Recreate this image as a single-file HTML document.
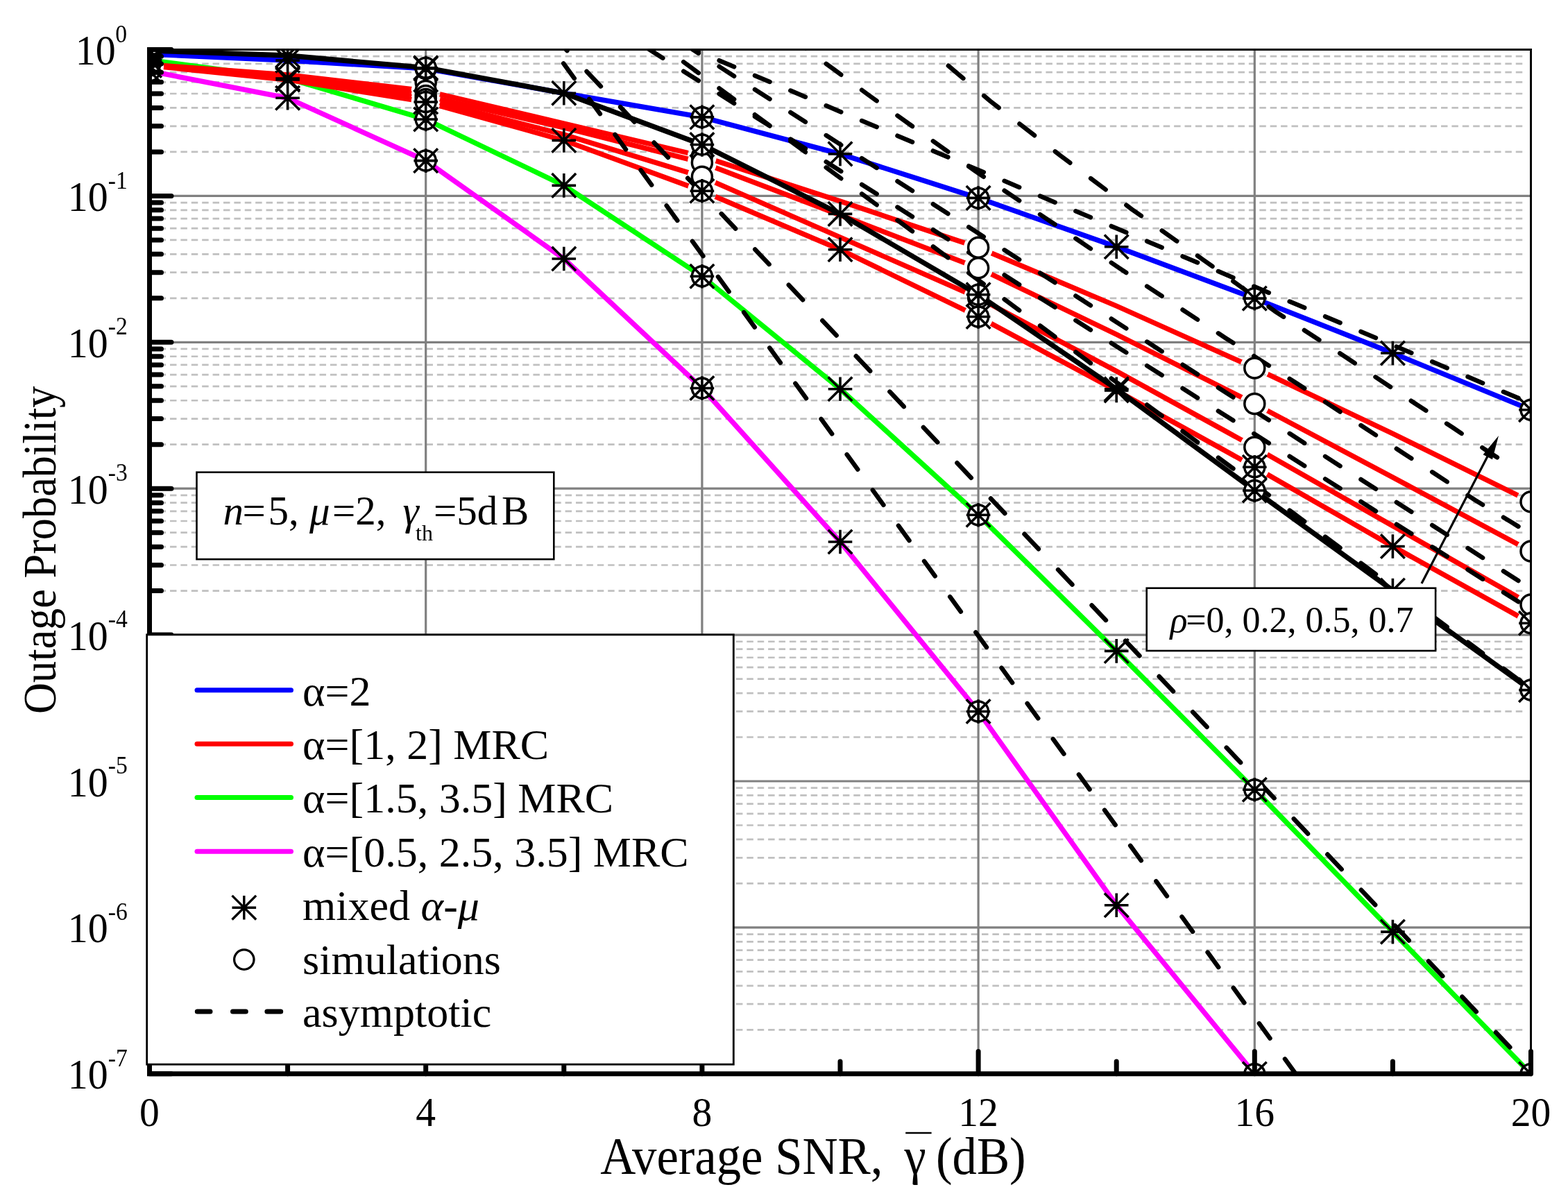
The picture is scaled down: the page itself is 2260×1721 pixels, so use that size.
<!DOCTYPE html><html><head><meta charset="utf-8"><title>Outage Probability</title><style>html,body{margin:0;padding:0;background:#fff;}svg{display:block;}text{font-family:"Liberation Serif","Times New Roman",serif;fill:#000;}</style></head><body>
<svg xmlns="http://www.w3.org/2000/svg" width="2260" height="1721" viewBox="0 0 2260 1721">
<rect width="2260" height="1721" fill="#fff"/>
<defs><clipPath id="pc"><rect x="215.5" y="71.5" width="1991.0" height="1476.3"/></clipPath></defs>
<path d="M214.2 218.91H2197 M214.2 181.78H2197 M214.2 155.43H2197 M214.2 134.99H2197 M214.2 118.29H2197 M214.2 104.17H2197 M214.2 91.94H2197 M214.2 81.15H2197 M214.2 429.81H2197 M214.2 392.68H2197 M214.2 366.33H2197 M214.2 345.89H2197 M214.2 329.19H2197 M214.2 315.07H2197 M214.2 302.84H2197 M214.2 292.05H2197 M214.2 640.71H2197 M214.2 603.58H2197 M214.2 577.23H2197 M214.2 556.79H2197 M214.2 540.09H2197 M214.2 525.97H2197 M214.2 513.74H2197 M214.2 502.95H2197 M214.2 851.61H2197 M214.2 814.48H2197 M214.2 788.13H2197 M214.2 767.69H2197 M214.2 750.99H2197 M214.2 736.87H2197 M214.2 724.64H2197 M214.2 713.85H2197 M214.2 1062.51H2197 M214.2 1025.38H2197 M214.2 999.03H2197 M214.2 978.59H2197 M214.2 961.89H2197 M214.2 947.77H2197 M214.2 935.54H2197 M214.2 924.75H2197 M214.2 1273.41H2197 M214.2 1236.28H2197 M214.2 1209.93H2197 M214.2 1189.49H2197 M214.2 1172.79H2197 M214.2 1158.67H2197 M214.2 1146.44H2197 M214.2 1135.65H2197 M214.2 1484.31H2197 M214.2 1447.18H2197 M214.2 1420.83H2197 M214.2 1400.39H2197 M214.2 1383.69H2197 M214.2 1369.57H2197 M214.2 1357.34H2197 M214.2 1346.55H2197" stroke="#c0c0c0" stroke-width="2.7" stroke-dasharray="9.5 5.895" fill="none"/>
<path d="M215.5 282.4H2206.5 M215.5 493.3H2206.5 M215.5 704.2H2206.5 M215.5 915.1H2206.5 M215.5 1126H2206.5 M215.5 1336.9H2206.5 M613.7 71.5V1547.8 M1011.9 71.5V1547.8 M1410.1 71.5V1547.8 M1808.3 71.5V1547.8" stroke="#808080" stroke-width="3.2" fill="none"/>
<g clip-path="url(#pc)">
<polyline points="215.5,86.5 414.6,113 613.7,172 812.8,267.4 1011.9,398.3 1211,560.7 1410.1,742.3 1609.2,938.4 1808.3,1138.2 2007.4,1343.1 2206.5,1548" stroke="#00ff00" stroke-width="7.3" fill="none" stroke-linejoin="round"/>
<polyline points="215.5,102.4 414.6,141.3 613.7,231.6 812.8,373 1011.9,559.5 1211,781 1410.1,1025.5 1609.2,1304.7 1808.3,1548 2007.4,1800 2206.5,2050" stroke="#ff00ff" stroke-width="7.3" fill="none" stroke-linejoin="round"/>
<mask id="mR1" maskUnits="userSpaceOnUse" x="0" y="0" width="2260" height="1721"><rect width="2260" height="1721" fill="#fff"/><g fill="#000"><circle cx="215.5" cy="93" r="21"/><circle cx="613.7" cy="131" r="21"/><circle cx="1011.9" cy="225.3" r="21"/><circle cx="1410.1" cy="356.8" r="21"/><circle cx="1808.3" cy="530.4" r="21"/><circle cx="2206.5" cy="723.2" r="21"/></g></mask>
<polyline points="215.5,93 414.6,108 613.7,131 812.8,178 1011.9,225.3 1211,290 1410.1,356.8 1609.2,441 1808.3,530.4 2007.4,625 2206.5,723.2" stroke="#ff0000" stroke-width="7.3" fill="none" stroke-linejoin="round" mask="url(#mR1)"/>
<mask id="mR2" maskUnits="userSpaceOnUse" x="0" y="0" width="2260" height="1721"><rect width="2260" height="1721" fill="#fff"/><g fill="#000"><circle cx="215.5" cy="93.5" r="21"/><circle cx="613.7" cy="138" r="21"/><circle cx="1011.9" cy="234.4" r="21"/><circle cx="1410.1" cy="386.3" r="21"/><circle cx="1808.3" cy="582.1" r="21"/><circle cx="2206.5" cy="794.6" r="21"/></g></mask>
<polyline points="215.5,93.5 414.6,110 613.7,138 812.8,184 1011.9,234.4 1211,310 1410.1,386.3 1609.2,482 1808.3,582.1 2007.4,688 2206.5,794.6" stroke="#ff0000" stroke-width="7.3" fill="none" stroke-linejoin="round" mask="url(#mR2)"/>
<mask id="mR3" maskUnits="userSpaceOnUse" x="0" y="0" width="2260" height="1721"><rect width="2260" height="1721" fill="#fff"/><g fill="#000"><circle cx="215.5" cy="94" r="21"/><circle cx="613.7" cy="143" r="21"/><circle cx="1011.9" cy="254.8" r="21"/><circle cx="1410.1" cy="429.3" r="21"/><circle cx="1808.3" cy="644.6" r="21"/><circle cx="2206.5" cy="871.4" r="21"/></g></mask>
<polyline points="215.5,94 414.6,112.5 613.7,143 812.8,194 1011.9,254.8 1211,342 1410.1,429.3 1609.2,535 1808.3,644.6 2007.4,758 2206.5,871.4" stroke="#ff0000" stroke-width="7.3" fill="none" stroke-linejoin="round" mask="url(#mR3)"/>
<mask id="mR4" maskUnits="userSpaceOnUse" x="0" y="0" width="2260" height="1721"><rect width="2260" height="1721" fill="#fff"/><g fill="#000"><circle cx="215.5" cy="94.5" r="21"/><circle cx="613.7" cy="147" r="21"/><circle cx="1011.9" cy="275.2" r="21"/><circle cx="1410.1" cy="456.5" r="21"/><circle cx="1808.3" cy="673.2" r="21"/><circle cx="2206.5" cy="898.2" r="21"/></g></mask>
<polyline points="215.5,94.5 414.6,115 613.7,147 812.8,202.4 1011.9,275.2 1211,359.8 1410.1,456.5 1609.2,563 1808.3,673.2 2007.4,787.5 2206.5,898.2" stroke="#ff0000" stroke-width="7.3" fill="none" stroke-linejoin="round" mask="url(#mR4)"/>
<polyline points="215.5,78 414.6,87.1 613.7,98.9 812.8,134.3 1011.9,168.9 1211,221.9 1410.1,285.4 1609.2,355.7 1808.3,430.1 2007.4,509 2206.5,590.7" stroke="#0000ff" stroke-width="7.3" fill="none" stroke-linejoin="round"/>
<polyline points="215.5,73 414.6,80 613.7,97.7 812.8,134.3 1011.9,208.5 1211,308.4 1410.1,424.8 1609.2,560.7 1808.3,707 2007.4,851 2206.5,994.6" stroke="#000000" stroke-width="7.3" fill="none" stroke-linejoin="round"/>
<path d="M950 50.61L955.34 52.86M985.22 65.49L1006.72 74.57M1036.6 87.19L1058.1 96.28M1087.98 108.9L1109.48 117.99M1139.36 130.61L1160.86 139.69M1190.74 152.32L1212.24 161.4M1242.12 174.03L1263.62 183.11M1293.5 195.73L1315 204.82M1344.88 217.44L1366.38 226.53M1396.26 239.15L1417.76 248.23M1447.64 260.86L1469.14 269.94M1499.02 282.57L1520.52 291.65M1550.4 304.28L1571.9 313.36M1601.78 325.98L1623.28 335.07M1653.16 347.69L1674.66 356.78M1704.54 369.4L1726.04 378.48M1755.92 391.11L1777.42 400.19M1807.3 412.82L1828.8 421.9M1858.68 434.52L1880.18 443.61M1910.06 456.23L1931.56 465.32M1961.44 477.94L1982.94 487.02M2012.82 499.65L2034.32 508.73M2064.2 521.36L2085.7 530.44M2115.58 543.06L2137.08 552.15M2166.96 564.77L2188.46 573.86M900 26.18L903.96 29.11M933.84 51.22L955.34 67.13M985.22 89.24L1006.72 105.15M1036.6 127.27L1058.1 143.18M1087.98 165.29L1109.48 181.2M1139.36 203.31L1160.86 219.22M1190.74 241.33L1212.24 257.24M1242.12 279.35L1263.62 295.26M1293.5 317.37L1315 333.28M1344.88 355.39L1366.38 371.3M1396.26 393.41L1417.76 409.32M1447.64 431.44L1469.14 447.35M1499.02 469.46L1520.52 485.37M1550.4 507.48L1571.9 523.39M1601.78 545.5L1623.28 561.41M1653.16 583.52L1674.66 599.43M1704.54 621.54L1726.04 637.45M1755.92 659.56L1777.42 675.47M1807.3 697.58L1828.8 713.49M1858.68 735.61L1880.18 751.52M1910.06 773.63L1931.56 789.54M1961.44 811.65L1982.94 827.56M2012.82 849.67L2034.32 865.58M2064.2 887.69L2085.7 903.6M2115.58 925.71L2137.08 941.62M2166.96 963.73L2188.46 979.64M900 8L903.96 10.55M933.84 29.77L955.34 43.6M985.22 62.83L1006.72 76.66M1036.6 95.89L1058.1 109.72M1087.98 128.94L1109.48 142.78M1139.36 162L1160.86 175.84M1190.74 195.06L1212.24 208.89M1242.12 228.12L1263.62 241.95M1293.5 261.18L1315 275.01M1344.88 294.23L1366.38 308.07M1396.26 327.29L1417.76 341.13M1447.64 360.35L1469.14 374.18M1499.02 393.41L1520.52 407.24M1550.4 426.47L1571.9 440.3M1601.78 459.52L1623.28 473.36M1653.16 492.58L1674.66 506.41M1704.54 525.64L1726.04 539.47M1755.92 558.7L1777.42 572.53M1807.3 591.76L1828.8 605.59M1858.68 624.81L1880.18 638.65M1910.06 657.87L1931.56 671.7M1961.44 690.93L1982.94 704.76M2012.82 723.99L2034.32 737.82M2064.2 757.04L2085.7 770.88M2115.58 790.1L2137.08 803.94M2166.96 823.16L2188.46 836.99M850 16.71L852.58 18.35M882.46 37.34L903.96 51M933.84 69.99L955.34 83.65M985.22 102.64L1006.72 116.3M1036.6 135.29L1058.1 148.96M1087.98 167.94L1109.48 181.61M1139.36 200.6L1160.86 214.26M1190.74 233.25L1212.24 246.91M1242.12 265.9L1263.62 279.56M1293.5 298.55L1315 312.22M1344.88 331.2L1366.38 344.87M1396.26 363.86L1417.76 377.52M1447.64 396.51L1469.14 410.17M1499.02 429.16L1520.52 442.82M1550.4 461.81L1571.9 475.48M1601.78 494.46L1623.28 508.13M1653.16 527.12L1674.66 540.78M1704.54 559.77L1726.04 573.43M1755.92 592.42L1777.42 606.08M1807.3 625.07L1828.8 638.74M1858.68 657.72L1880.18 671.39M1910.06 690.38L1931.56 704.04M1961.44 723.03L1982.94 736.69M2012.82 755.68L2034.32 769.34M2064.2 788.33L2085.7 801.99M2115.58 820.98L2137.08 834.65M2166.96 853.64L2188.46 867.3M1150 61.7L1160.86 69.73M1190.74 91.82L1201.4 99.7L1212.24 107.7M1242.12 129.76L1252.6 137.5L1263.62 145.36M1293.5 166.67L1315 182M1344.88 203.31L1366.38 218.64M1396.26 239.95L1406 246.9L1417.76 254.76M1447.64 274.74L1469.14 289.11M1499.02 309.09L1511 317.1L1520.52 323.55M1550.4 343.81L1571.9 358.38M1601.78 378.63L1612.5 385.9L1623.28 393M1653.16 412.66L1674.66 426.81M1704.54 446.48L1726.04 460.63M1755.92 480.3L1766.4 487.2L1777.42 494.21M1807.3 513.21L1828.8 526.89M1858.68 545.89L1868.6 552.2L1880.18 559.79M1910.06 579.37L1931.56 593.47M1961.44 613.05L1982.94 627.14M2012.82 646.72L2022.7 653.2L2034.32 660.79M2064.2 680.32L2085.7 694.37M2115.58 713.89L2126 720.7L2137.08 727.46M2166.96 745.68L2177 751.8L2188.46 758.87M1330 63.8L1337.1 69.77M1366.9 94.81L1374.5 101.2L1388.4 112.93M1418.2 138.07L1427 145.5L1439.7 155.36M1469.5 178.5L1491 195.19M1520.8 218.33L1529 224.7L1542.3 234.69M1572.1 257.09L1593.6 273.24M1623.4 295.64L1631.6 301.8L1644.9 311.22M1674.7 332.32L1696.2 347.54M1726 368.64L1734.7 374.8L1747.5 383.98M1777.3 405.37L1798.8 420.79M1828.6 442.17L1837 448.2L1850.1 456.7M1879.9 476.02L1901.4 489.97M1931.2 509.29L1940 515L1952.7 523.49M1982.5 543.4L2004 557.77M2033.8 577.69L2042.5 583.5L2055.3 591.64M2085.1 610.6L2093.9 616.2L2106.6 624.85M2136.4 645.14L2145 651L2157.9 659.35M797.04 51.6L817.38 73.1M845.58 102.9L865.92 124.4M894.11 154.2L914.45 175.7M942.64 205.5L962.98 227M991.18 256.8L1011.52 278.3M1039.71 308.1L1060.05 329.6M1088.24 359.4L1108.59 380.9M1136.78 410.7L1157.12 432.2M1185.31 462L1205.65 483.5M1233.85 513.3L1254.19 534.8M1282.38 564.6L1302.72 586.1M1330.91 615.9L1351.25 637.4M1379.45 667.2L1399.79 688.7M1427.98 718.5L1448.32 740M1476.51 769.8L1496.85 791.3M1525.05 821.1L1545.39 842.6M1573.58 872.4L1593.92 893.9M1622.11 923.7L1642.45 945.2M1670.65 975L1690.99 996.5M1719.18 1026.3L1739.52 1047.8M1767.72 1077.6L1788.06 1099.1M1816.25 1128.9L1836.59 1150.4M1864.78 1180.2L1885.12 1201.7M1913.32 1231.5L1933.66 1253M1961.85 1282.8L1982.19 1304.3M2010.38 1334.1L2030.72 1355.6M2058.92 1385.4L2079.26 1406.9M2107.45 1436.7L2127.79 1458.2M2155.98 1488L2176.32 1509.5M2204.52 1539.3L2216.5 1551.97M780 47L790.62 61.65M812.17 91.4L827.75 112.9M849.31 142.65L864.89 164.15M886.45 193.9L902.03 215.4M923.59 245.15L939.17 266.65M960.72 296.4L976.3 317.9M997.86 347.65L1013.44 369.15M1035 398.9L1050.58 420.4M1072.14 450.15L1087.72 471.65M1109.28 501.4L1124.86 522.9M1146.41 552.65L1161.99 574.15M1183.55 603.9L1199.13 625.4M1220.69 655.15L1236.27 676.65M1257.83 706.4L1273.41 727.9M1294.96 757.65L1310.54 779.15M1332.1 808.9L1347.68 830.4M1369.24 860.15L1384.82 881.65M1406.38 911.4L1421.96 932.9M1443.51 962.65L1459.09 984.15M1480.65 1013.9L1496.23 1035.4M1517.79 1065.15L1533.37 1086.65M1554.93 1116.4L1570.51 1137.9M1592.07 1167.65L1607.64 1189.15M1629.2 1218.9L1644.78 1240.4M1666.34 1270.15L1681.92 1291.65M1703.48 1321.4L1719.06 1342.9M1740.62 1372.65L1756.2 1394.15M1777.75 1423.9L1793.33 1445.4M1814.89 1475.15L1830.47 1496.65M1852.03 1526.4L1867.61 1547.9M1889.17 1577.65L1900 1592.6" stroke="#000" stroke-width="6.5" fill="none" stroke-linecap="round" stroke-linejoin="round"/>
<g fill="#fff" stroke="#000" stroke-width="3.5"><circle cx="613.7" cy="119" r="14.5"/><circle cx="215.5" cy="86.5" r="14.5"/><circle cx="613.7" cy="172" r="14.5"/><circle cx="1011.9" cy="398.3" r="14.5"/><circle cx="1410.1" cy="742.3" r="14.5"/><circle cx="1808.3" cy="1138.2" r="14.5"/><circle cx="2206.5" cy="1548" r="14.5"/><circle cx="215.5" cy="102.4" r="14.5"/><circle cx="613.7" cy="231.6" r="14.5"/><circle cx="1011.9" cy="559.5" r="14.5"/><circle cx="1410.1" cy="1025.5" r="14.5"/><circle cx="1808.3" cy="1548" r="14.5"/><circle cx="215.5" cy="93" r="14.5"/><circle cx="613.7" cy="131" r="14.5"/><circle cx="1011.9" cy="225.3" r="14.5"/><circle cx="1410.1" cy="356.8" r="14.5"/><circle cx="1808.3" cy="530.4" r="14.5"/><circle cx="2206.5" cy="723.2" r="14.5"/><circle cx="215.5" cy="93.5" r="14.5"/><circle cx="613.7" cy="138" r="14.5"/><circle cx="1011.9" cy="234.4" r="14.5"/><circle cx="1410.1" cy="386.3" r="14.5"/><circle cx="1808.3" cy="582.1" r="14.5"/><circle cx="2206.5" cy="794.6" r="14.5"/><circle cx="215.5" cy="94" r="14.5"/><circle cx="613.7" cy="143" r="14.5"/><circle cx="1011.9" cy="254.8" r="14.5"/><circle cx="1410.1" cy="429.3" r="14.5"/><circle cx="1808.3" cy="644.6" r="14.5"/><circle cx="2206.5" cy="871.4" r="14.5"/><circle cx="215.5" cy="94.5" r="14.5"/><circle cx="613.7" cy="147" r="14.5"/><circle cx="1011.9" cy="275.2" r="14.5"/><circle cx="1410.1" cy="456.5" r="14.5"/><circle cx="1808.3" cy="673.2" r="14.5"/><circle cx="2206.5" cy="898.2" r="14.5"/><circle cx="215.5" cy="78" r="14.5"/><circle cx="613.7" cy="98.9" r="14.5"/><circle cx="1011.9" cy="168.9" r="14.5"/><circle cx="1410.1" cy="285.4" r="14.5"/><circle cx="1808.3" cy="430.1" r="14.5"/><circle cx="2206.5" cy="590.7" r="14.5"/><circle cx="215.5" cy="73" r="14.5"/><circle cx="613.7" cy="97.7" r="14.5"/><circle cx="1011.9" cy="208.5" r="14.5"/><circle cx="1410.1" cy="424.8" r="14.5"/><circle cx="1808.3" cy="707" r="14.5"/><circle cx="2206.5" cy="994.6" r="14.5"/></g>
<path d="M198.2 78h34.6M215.5 60.7v34.6M198.2 60.7l34.6 34.6M198.2 95.3l34.6 -34.6M397.3 87.1h34.6M414.6 69.8v34.6M397.3 69.8l34.6 34.6M397.3 104.4l34.6 -34.6M596.4 98.9h34.6M613.7 81.6v34.6M596.4 81.6l34.6 34.6M596.4 116.2l34.6 -34.6M795.5 134.3h34.6M812.8 117v34.6M795.5 117l34.6 34.6M795.5 151.6l34.6 -34.6M994.6 168.9h34.6M1011.9 151.6v34.6M994.6 151.6l34.6 34.6M994.6 186.2l34.6 -34.6M1193.7 221.9h34.6M1211 204.6v34.6M1193.7 204.6l34.6 34.6M1193.7 239.2l34.6 -34.6M1392.8 285.4h34.6M1410.1 268.1v34.6M1392.8 268.1l34.6 34.6M1392.8 302.7l34.6 -34.6M1591.9 355.7h34.6M1609.2 338.4v34.6M1591.9 338.4l34.6 34.6M1591.9 373l34.6 -34.6M1791 430.1h34.6M1808.3 412.8v34.6M1791 412.8l34.6 34.6M1791 447.4l34.6 -34.6M1990.1 509h34.6M2007.4 491.7v34.6M1990.1 491.7l34.6 34.6M1990.1 526.3l34.6 -34.6M2189.2 590.7h34.6M2206.5 573.4v34.6M2189.2 573.4l34.6 34.6M2189.2 608l34.6 -34.6M198.2 73h34.6M215.5 55.7v34.6M198.2 55.7l34.6 34.6M198.2 90.3l34.6 -34.6M397.3 80h34.6M414.6 62.7v34.6M397.3 62.7l34.6 34.6M397.3 97.3l34.6 -34.6M596.4 97.7h34.6M613.7 80.4v34.6M596.4 80.4l34.6 34.6M596.4 115l34.6 -34.6M795.5 134.3h34.6M812.8 117v34.6M795.5 117l34.6 34.6M795.5 151.6l34.6 -34.6M994.6 208.5h34.6M1011.9 191.2v34.6M994.6 191.2l34.6 34.6M994.6 225.8l34.6 -34.6M1193.7 308.4h34.6M1211 291.1v34.6M1193.7 291.1l34.6 34.6M1193.7 325.7l34.6 -34.6M1392.8 424.8h34.6M1410.1 407.5v34.6M1392.8 407.5l34.6 34.6M1392.8 442.1l34.6 -34.6M1591.9 560.7h34.6M1609.2 543.4v34.6M1591.9 543.4l34.6 34.6M1591.9 578l34.6 -34.6M1791 707h34.6M1808.3 689.7v34.6M1791 689.7l34.6 34.6M1791 724.3l34.6 -34.6M1990.1 851h34.6M2007.4 833.7v34.6M1990.1 833.7l34.6 34.6M1990.1 868.3l34.6 -34.6M2189.2 994.6h34.6M2206.5 977.3v34.6M2189.2 977.3l34.6 34.6M2189.2 1011.9l34.6 -34.6M198.2 94.5h34.6M215.5 77.2v34.6M198.2 77.2l34.6 34.6M198.2 111.8l34.6 -34.6M397.3 115h34.6M414.6 97.7v34.6M397.3 97.7l34.6 34.6M397.3 132.3l34.6 -34.6M596.4 147h34.6M613.7 129.7v34.6M596.4 129.7l34.6 34.6M596.4 164.3l34.6 -34.6M795.5 202.4h34.6M812.8 185.1v34.6M795.5 185.1l34.6 34.6M795.5 219.7l34.6 -34.6M994.6 275.2h34.6M1011.9 257.9v34.6M994.6 257.9l34.6 34.6M994.6 292.5l34.6 -34.6M1193.7 359.8h34.6M1211 342.5v34.6M1193.7 342.5l34.6 34.6M1193.7 377.1l34.6 -34.6M1392.8 456.5h34.6M1410.1 439.2v34.6M1392.8 439.2l34.6 34.6M1392.8 473.8l34.6 -34.6M1591.9 563h34.6M1609.2 545.7v34.6M1591.9 545.7l34.6 34.6M1591.9 580.3l34.6 -34.6M1791 673.2h34.6M1808.3 655.9v34.6M1791 655.9l34.6 34.6M1791 690.5l34.6 -34.6M1990.1 787.5h34.6M2007.4 770.2v34.6M1990.1 770.2l34.6 34.6M1990.1 804.8l34.6 -34.6M2189.2 898.2h34.6M2206.5 880.9v34.6M2189.2 880.9l34.6 34.6M2189.2 915.5l34.6 -34.6M198.2 86.5h34.6M215.5 69.2v34.6M198.2 69.2l34.6 34.6M198.2 103.8l34.6 -34.6M397.3 113h34.6M414.6 95.7v34.6M397.3 95.7l34.6 34.6M397.3 130.3l34.6 -34.6M596.4 172h34.6M613.7 154.7v34.6M596.4 154.7l34.6 34.6M596.4 189.3l34.6 -34.6M795.5 267.4h34.6M812.8 250.1v34.6M795.5 250.1l34.6 34.6M795.5 284.7l34.6 -34.6M994.6 398.3h34.6M1011.9 381v34.6M994.6 381l34.6 34.6M994.6 415.6l34.6 -34.6M1193.7 560.7h34.6M1211 543.4v34.6M1193.7 543.4l34.6 34.6M1193.7 578l34.6 -34.6M1392.8 742.3h34.6M1410.1 725v34.6M1392.8 725l34.6 34.6M1392.8 759.6l34.6 -34.6M1591.9 938.4h34.6M1609.2 921.1v34.6M1591.9 921.1l34.6 34.6M1591.9 955.7l34.6 -34.6M1791 1138.2h34.6M1808.3 1120.9v34.6M1791 1120.9l34.6 34.6M1791 1155.5l34.6 -34.6M1990.1 1343.1h34.6M2007.4 1325.8v34.6M1990.1 1325.8l34.6 34.6M1990.1 1360.4l34.6 -34.6M2189.2 1548h34.6M2206.5 1530.7v34.6M2189.2 1530.7l34.6 34.6M2189.2 1565.3l34.6 -34.6M198.2 102.4h34.6M215.5 85.1v34.6M198.2 85.1l34.6 34.6M198.2 119.7l34.6 -34.6M397.3 141.3h34.6M414.6 124v34.6M397.3 124l34.6 34.6M397.3 158.6l34.6 -34.6M596.4 231.6h34.6M613.7 214.3v34.6M596.4 214.3l34.6 34.6M596.4 248.9l34.6 -34.6M795.5 373h34.6M812.8 355.7v34.6M795.5 355.7l34.6 34.6M795.5 390.3l34.6 -34.6M994.6 559.5h34.6M1011.9 542.2v34.6M994.6 542.2l34.6 34.6M994.6 576.8l34.6 -34.6M1193.7 781h34.6M1211 763.7v34.6M1193.7 763.7l34.6 34.6M1193.7 798.3l34.6 -34.6M1392.8 1025.5h34.6M1410.1 1008.2v34.6M1392.8 1008.2l34.6 34.6M1392.8 1042.8l34.6 -34.6M1591.9 1304.7h34.6M1609.2 1287.4v34.6M1591.9 1287.4l34.6 34.6M1591.9 1322l34.6 -34.6M1791 1548h34.6M1808.3 1530.7v34.6M1791 1530.7l34.6 34.6M1791 1565.3l34.6 -34.6" stroke="#000" stroke-width="3.6" fill="none"/>
</g>
<path d="M215.5 71.5H2206.5V1547.8" stroke="#000" stroke-width="3" fill="none"/>
<path d="M215.5 71.5H247M215.5 218.91H232.5M215.5 181.78H232.5M215.5 155.43H232.5M215.5 134.99H232.5M215.5 118.29H232.5M215.5 104.17H232.5M215.5 91.94H232.5M215.5 81.15H232.5M215.5 282.4H247M215.5 429.81H232.5M215.5 392.68H232.5M215.5 366.33H232.5M215.5 345.89H232.5M215.5 329.19H232.5M215.5 315.07H232.5M215.5 302.84H232.5M215.5 292.05H232.5M215.5 493.3H247M215.5 640.71H232.5M215.5 603.58H232.5M215.5 577.23H232.5M215.5 556.79H232.5M215.5 540.09H232.5M215.5 525.97H232.5M215.5 513.74H232.5M215.5 502.95H232.5M215.5 704.2H247M215.5 851.61H232.5M215.5 814.48H232.5M215.5 788.13H232.5M215.5 767.69H232.5M215.5 750.99H232.5M215.5 736.87H232.5M215.5 724.64H232.5M215.5 713.85H232.5M215.5 915.1H247M215.5 1062.51H232.5M215.5 1025.38H232.5M215.5 999.03H232.5M215.5 978.59H232.5M215.5 961.89H232.5M215.5 947.77H232.5M215.5 935.54H232.5M215.5 924.75H232.5M215.5 1126H247M215.5 1273.41H232.5M215.5 1236.28H232.5M215.5 1209.93H232.5M215.5 1189.49H232.5M215.5 1172.79H232.5M215.5 1158.67H232.5M215.5 1146.44H232.5M215.5 1135.65H232.5M215.5 1336.9H247M215.5 1484.31H232.5M215.5 1447.18H232.5M215.5 1420.83H232.5M215.5 1400.39H232.5M215.5 1383.69H232.5M215.5 1369.57H232.5M215.5 1357.34H232.5M215.5 1346.55H232.5M215.5 1547.8H247M215.5 1547.8V1515.5M414.6 1547.8V1530M613.7 1547.8V1515.5M812.8 1547.8V1530M1011.9 1547.8V1515.5M1211 1547.8V1530M1410.1 1547.8V1515.5M1609.2 1547.8V1530M1808.3 1547.8V1515.5M2007.4 1547.8V1530M2206.5 1547.8V1515.5" stroke="#000" stroke-width="7" stroke-linecap="round" fill="none"/>
<path d="M215.5 68V1547.8H2208" stroke="#000" stroke-width="7" fill="none"/>
<text x="215.5" y="1623.2" font-size="60" text-anchor="middle" transform="translate(215.5 0) scale(0.96 1) translate(-215.5 0)">0</text>
<text x="613.7" y="1623.2" font-size="60" text-anchor="middle" transform="translate(613.7 0) scale(0.96 1) translate(-613.7 0)">4</text>
<text x="1011.9" y="1623.2" font-size="60" text-anchor="middle" transform="translate(1011.9 0) scale(0.96 1) translate(-1011.9 0)">8</text>
<text x="1410.1" y="1623.2" font-size="60" text-anchor="middle" transform="translate(1410.1 0) scale(0.96 1) translate(-1410.1 0)">12</text>
<text x="1808.3" y="1623.2" font-size="60" text-anchor="middle" transform="translate(1808.3 0) scale(0.96 1) translate(-1808.3 0)">16</text>
<text x="2206.5" y="1623.2" font-size="60" text-anchor="middle" transform="translate(2206.5 0) scale(0.96 1) translate(-2206.5 0)">20</text>
<text x="108.8" y="93.1" font-size="62" transform="translate(108.8 0) scale(0.935 1) translate(-108.8 0)">10</text>
<text x="166.3" y="60.7" font-size="36" transform="translate(166.3 0) scale(0.935 1) translate(-166.3 0)">0</text>
<text x="97.8" y="304" font-size="62" transform="translate(97.8 0) scale(0.935 1) translate(-97.8 0)">10</text>
<text x="155.8" y="271.6" font-size="36" transform="translate(155.8 0) scale(0.935 1) translate(-155.8 0)">-1</text>
<text x="97.8" y="514.9" font-size="62" transform="translate(97.8 0) scale(0.935 1) translate(-97.8 0)">10</text>
<text x="155.8" y="482.5" font-size="36" transform="translate(155.8 0) scale(0.935 1) translate(-155.8 0)">-2</text>
<text x="97.8" y="725.8" font-size="62" transform="translate(97.8 0) scale(0.935 1) translate(-97.8 0)">10</text>
<text x="155.8" y="693.4" font-size="36" transform="translate(155.8 0) scale(0.935 1) translate(-155.8 0)">-3</text>
<text x="97.8" y="936.7" font-size="62" transform="translate(97.8 0) scale(0.935 1) translate(-97.8 0)">10</text>
<text x="155.8" y="904.3" font-size="36" transform="translate(155.8 0) scale(0.935 1) translate(-155.8 0)">-4</text>
<text x="97.8" y="1147.6" font-size="62" transform="translate(97.8 0) scale(0.935 1) translate(-97.8 0)">10</text>
<text x="155.8" y="1115.2" font-size="36" transform="translate(155.8 0) scale(0.935 1) translate(-155.8 0)">-5</text>
<text x="97.8" y="1358.5" font-size="62" transform="translate(97.8 0) scale(0.935 1) translate(-97.8 0)">10</text>
<text x="155.8" y="1326.1" font-size="36" transform="translate(155.8 0) scale(0.935 1) translate(-155.8 0)">-6</text>
<text x="97.8" y="1569.4" font-size="62" transform="translate(97.8 0) scale(0.935 1) translate(-97.8 0)">10</text>
<text x="155.8" y="1537" font-size="36" transform="translate(155.8 0) scale(0.935 1) translate(-155.8 0)">-7</text>
<text x="865.2" y="1692.2" font-size="76" transform="translate(865.2 0) scale(0.931 1) translate(-865.2 0)">Average SNR,</text>
<text x="1303.5" y="1692.2" font-size="76" transform="translate(1303.5 0) scale(0.931 1) translate(-1303.5 0)">γ</text>
<path d="M1305.2 1633H1342.6" stroke="#000" stroke-width="2.4"/>
<text x="1349" y="1692.2" font-size="76" transform="translate(1349 0) scale(0.931 1) translate(-1349 0)">(dB)</text>
<text transform="translate(80 1029) rotate(-90) scale(0.93 1)" x="0" y="0" font-size="67">Outage Probability</text>
<rect x="283.5" y="680.7" width="514.8" height="125.4" fill="#fff" stroke="#000" stroke-width="2.6"/>
<text y="756" font-size="59"><tspan x="321.5" font-style="italic">n</tspan><tspan x="349.4">=</tspan><tspan x="386.4">5,</tspan><tspan x="446" font-style="italic">μ</tspan><tspan x="479">=2,</tspan><tspan x="580.5" font-style="italic">γ</tspan><tspan x="599" y="779.2" font-size="32">th</tspan><tspan x="625" y="756">=5d</tspan><tspan x="723">B</tspan></text>
<rect x="1652.7" y="847.7" width="416.4" height="90.3" fill="#fff" stroke="#000" stroke-width="2.6"/>
<text x="1686.5" y="910.8" font-size="52"><tspan font-style="italic">ρ</tspan><tspan x="1709.3">=0, 0.2, 0.5, 0.7</tspan></text>
<path d="M2049 841L2146 654" stroke="#000" stroke-width="3.2" fill="none"/>
<path d="M2160 628L2137.6 655.2L2151 662.2Z" fill="#000"/>
<rect x="211.7" y="914.8" width="845.6" height="619.4" fill="#fff" stroke="#000" stroke-width="2.8"/>
<path d="M284 994.7H419.5" stroke="#0000ff" stroke-width="7" stroke-linecap="round"/>
<text x="436.1" y="1016.5" font-size="62">α=2</text>
<path d="M284 1072.3H419.5" stroke="#ff0000" stroke-width="7" stroke-linecap="round"/>
<text x="436.1" y="1094.1" font-size="62">α=[1, 2] MRC</text>
<path d="M284 1149.6H419.5" stroke="#00ff00" stroke-width="7" stroke-linecap="round"/>
<text x="436.1" y="1171.4" font-size="62">α=[1.5, 3.5] MRC</text>
<path d="M284 1227.3H419.5" stroke="#ff00ff" stroke-width="7" stroke-linecap="round"/>
<text x="436.1" y="1249.1" font-size="62">α=[0.5, 2.5, 3.5] MRC</text>
<path d="M334.5 1308.2h34.6M351.8 1290.9v34.6M334.5 1290.9l34.6 34.6M334.5 1325.5l34.6 -34.6" stroke="#000" stroke-width="3.4"/>
<text x="436.1" y="1325.9" font-size="62">mixed <tspan font-style="italic">α</tspan>-<tspan font-style="italic">μ</tspan></text>
<circle cx="351.8" cy="1383.1" r="14.2" fill="#fff" stroke="#000" stroke-width="3.3"/>
<text x="436.1" y="1403.6" font-size="62">simulations</text>
<path d="M284.3 1458H303M335.5 1458H354.3M384.9 1458H404.7" stroke="#000" stroke-width="7" stroke-linecap="round"/>
<text x="436.1" y="1479.7" font-size="62">asymptotic</text>
</svg></body></html>
